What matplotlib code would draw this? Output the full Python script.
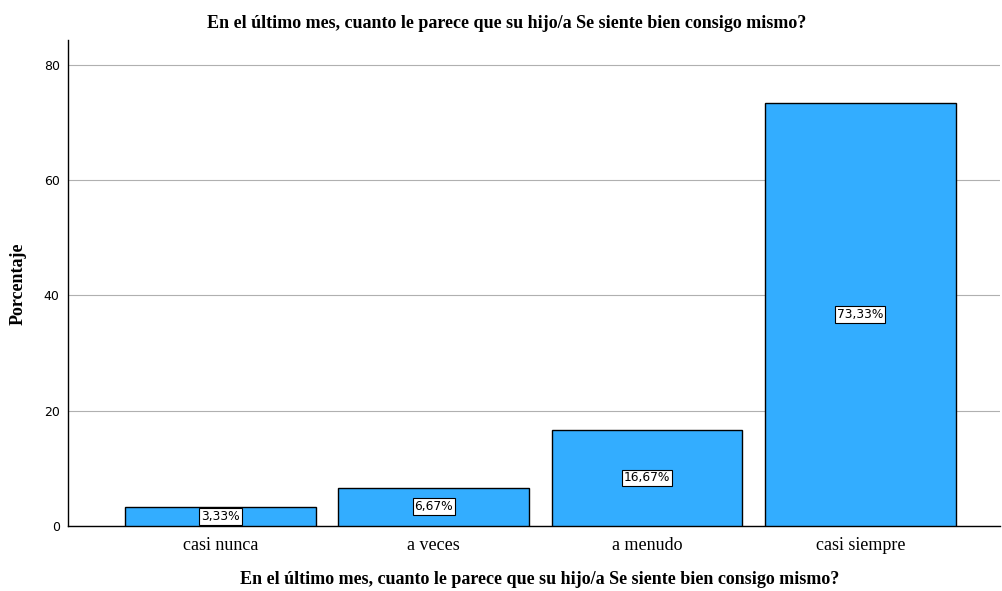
import matplotlib
matplotlib.use("Agg")
import matplotlib.pyplot as plt

categories = ["casi nunca", "a veces", "a menudo", "casi siempre"]
values = [3.33, 6.67, 16.67, 73.33]
labels = ["3,33%", "6,67%", "16,67%", "73,33%"]
yticks = [0, 20, 40, 60, 80]
title = "En el último mes, cuanto le parece que su hijo/a Se siente bien consigo mismo?"

fig = plt.figure(figsize=(10.02, 5.91), dpi=100)
ax = fig.add_axes([68/1002, 65/591, 932/1002, 486/591])

x = list(range(len(categories)))
ax.bar(x, values, width=0.895, color="#33adff", edgecolor="black", linewidth=1, zorder=3)
ax.set_xlim(-0.715, 3.655)
ax.set_ylim(0, 84.3)
ax.set_yticks(yticks)
ax.set_yticklabels([str(t) for t in yticks], fontsize=9, family="DejaVu Sans")
ax.yaxis.grid(True, color="#b0b0b0", linewidth=0.8, zorder=0)
ax.set_axisbelow(True)
ax.set_xticks(x)
ax.set_xticklabels(categories, fontsize=13, family="Liberation Serif")
ax.tick_params(axis="x", length=0, pad=8)
ax.tick_params(axis="y", length=0, pad=6)
for s in ["top", "right"]:
    ax.spines[s].set_visible(False)
ax.spines["left"].set_linewidth(1)
ax.spines["bottom"].set_linewidth(1)

for xi, v, lab in zip(x, values, labels):
    ax.text(xi, v/2, lab, ha="center", va="center", fontsize=8.8, family="DejaVu Sans",
            bbox=dict(boxstyle="square,pad=0.15", facecolor="white", edgecolor="black", linewidth=0.8),
            zorder=5)

fig.text(18/1002, 1 - 284/591, "Porcentaje", rotation=90, ha="center", va="center",
         fontsize=13, family="Liberation Serif", fontweight="bold")
fig.text(540/1002, 1 - 580/591, title, ha="center", va="center", fontsize=13,
         family="Liberation Serif", fontweight="bold")
fig.text(507/1002, 1 - 24/591, title, ha="center", va="center", fontsize=13,
         family="Liberation Serif", fontweight="bold")

fig.savefig("out.png", dpi=100, facecolor="white")
